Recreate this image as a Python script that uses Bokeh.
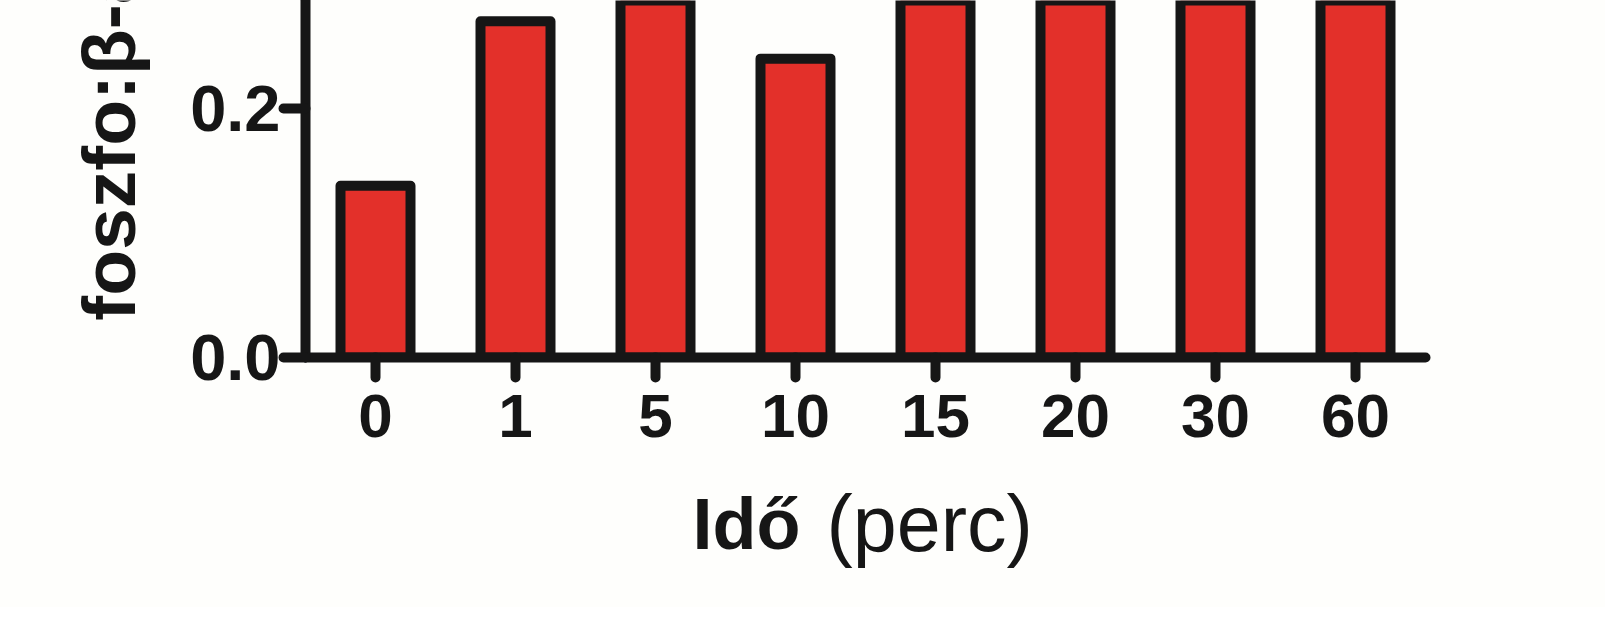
from math import pi
from bokeh.plotting import figure
from bokeh.layouts import row, column
from bokeh.models import FactorRange, Range1d, FixedTicker, NumeralTickFormatter
from bokeh.core.properties import value
from bokeh.embed import file_html
from bokeh.resources import INLINE

# ---- data ----
times = ["0", "1", "5", "10", "15", "20", "30", "60"]
ratios = [0.138, 0.270, 0.288, 0.240, 0.45, 0.50, 0.47, 0.42]
y_ticks = [0.0, 0.2]
x_title_bold = ["Idő"]
x_title_rest = ["(perc)"]
y_title = ["foszfo:β-aktin"]

INK = "#161616"
RED = "#E3302A"
BG = "#FEFEFC"
FONT = "Liberation Sans"

LEFT_W = 150
MAIN_H = 457
BOTTOM_H = 150
TOTAL_W = 1605


def blank(width, height, xr, yr):
    f = figure(width=width, height=height, x_range=xr, y_range=yr,
               x_axis_type=None, y_axis_type=None,
               output_backend="svg", toolbar_location=None,
               min_border=0, background_fill_color=BG, border_fill_color=BG)
    f.xgrid.visible = False
    f.ygrid.visible = False
    f.outline_line_color = None
    return f


# ---- main chart ----
p = figure(
    x_range=FactorRange(factors=times, range_padding=0),
    y_range=Range1d(0, 0.2867),
    frame_width=1120, frame_height=357,
    min_border_left=155, min_border_right=TOTAL_W - LEFT_W - 155 - 1120,
    min_border_top=0, min_border_bottom=MAIN_H - 357,
    output_backend="svg", toolbar_location=None,
    background_fill_color=BG, border_fill_color=BG,
)

p.vbar(x=times, top=ratios, width=0.5, fill_color=RED, line_color=INK,
       line_width=10, line_join="round")

p.xgrid.visible = False
p.ygrid.visible = False
p.outline_line_color = None

for ax in (p.xaxis[0], p.yaxis[0]):
    ax.axis_line_width = 10
    ax.axis_line_color = INK
    ax.axis_line_cap = "round"
    ax.major_tick_line_width = 10
    ax.major_tick_line_color = INK
    ax.major_tick_line_cap = "round"
    ax.major_tick_in = 0
    ax.minor_tick_line_color = None
    ax.major_label_text_font = FONT
    ax.major_label_text_font_style = "bold"
    ax.major_label_text_color = INK

xa = p.xaxis[0]
xa.major_tick_out = 20
xa.major_label_standoff = 17
xa.major_label_text_font_size = "62px"

ya = p.yaxis[0]
ya.ticker = FixedTicker(ticks=y_ticks)
ya.formatter = NumeralTickFormatter(format="0.0")
ya.major_tick_out = 22
ya.major_label_standoff = 3
ya.major_label_text_font_size = "65px"

# ---- y-axis title (left strip, pixel coordinates, y downward) ----
left = blank(LEFT_W, MAIN_H, Range1d(0, LEFT_W), Range1d(MAIN_H, 0))
left.text(x=[108], y=[410], text=y_title, angle=pi / 2,
          text_align="left", text_baseline="alphabetic",
          text_font=value(FONT), text_font_style="bold",
          text_font_size="75px", text_color=INK)

# ---- x-axis title (bottom strip, page pixel coordinates) ----
bottom = blank(TOTAL_W, BOTTOM_H, Range1d(0, TOTAL_W),
               Range1d(MAIN_H + BOTTOM_H, MAIN_H))
bottom.text(x=[692], y=[523], text=x_title_bold,
            text_align="left", text_baseline="alphabetic",
            text_font=value(FONT), text_font_style="bold",
            text_font_size="72px", text_color=INK)
bottom.text(x=[826], y=[523], text=x_title_rest,
            text_align="left", text_baseline="alphabetic",
            text_font=value(FONT), text_font_style="normal",
            text_font_size="79px", text_color=INK)

layout = column(row(left, p, spacing=0), bottom, spacing=0,
                styles={"background-color": BG})

open("out.html", "w").write(file_html(layout, INLINE))
